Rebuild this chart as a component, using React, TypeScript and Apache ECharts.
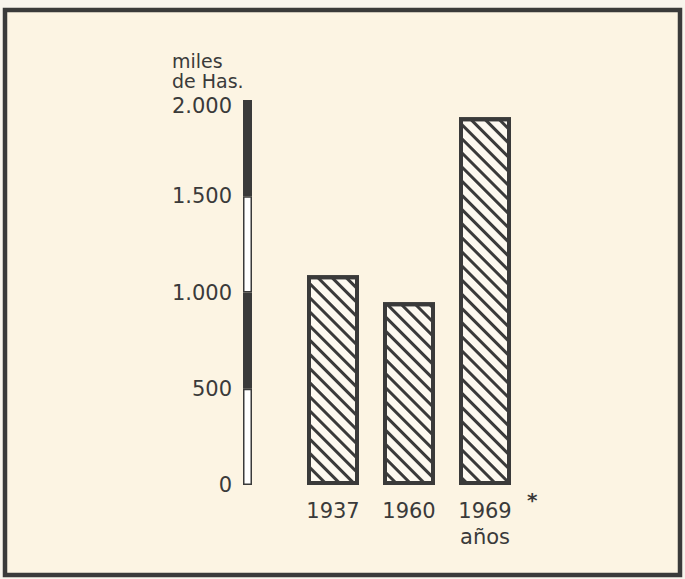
import React, { useEffect, useRef } from 'react';
import * as echarts from 'echarts';

// ---- data ----
const years = ['1937', '1960', '1969'];
const areaThousandHa = [1090, 950, 1910];
const axisSegments = [500, 500, 500, 500];
const yMin = 0;
const yMax = 2000;
const yStep = 500;
const unitLabel = ['miles', 'de Has.'];
const xAxisTitle = 'años';
const footnoteMark = '*';

const INK = '#3a3a3a';
const PAPER = '#fcf4e3';
const FONT = '"DejaVu Sans", sans-serif';

const fmt = (v: number) =>
  v >= 1000 ? `${Math.floor(v / 1000)}.${String(v % 1000).padStart(3, '0')}` : String(v);

export default function App() {
  const ref = useRef<HTMLDivElement>(null);
  useEffect(() => {
    if (!ref.current) return;
    const chart = echarts.init(ref.current, undefined, { renderer: 'svg' });
    const gridTop = 100;
    const gridBottom = 94;
    chart.setOption({
      animation: false,
      backgroundColor: '#f8f4ec',
      textStyle: { fontFamily: FONT, color: INK },
      grid: [
        { left: 243, width: 9, top: gridTop, bottom: gridBottom },
        { left: 295, right: 162, top: gridTop, bottom: gridBottom },
      ],
      xAxis: [
        { type: 'category', gridIndex: 0, data: [''], show: false },
        {
          type: 'category',
          gridIndex: 1,
          data: years,
          axisLine: { show: false },
          axisTick: { show: false },
          axisLabel: {
            margin: 13,
            fontSize: 21,
            color: INK,
            fontFamily: FONT,
            lineHeight: 26,
            formatter: (v: string, i: number) =>
              i === years.length - 1 ? `${v}\n${xAxisTitle}` : v,
          },
        },
      ],
      yAxis: [
        {
          type: 'value',
          gridIndex: 0,
          min: yMin,
          max: yMax,
          interval: yStep,
          axisLine: { show: false },
          axisTick: { show: false },
          splitLine: { show: false },
          axisLabel: {
            margin: 11,
            fontSize: 21,
            color: INK,
            fontFamily: FONT,
            formatter: (v: number) => (v === yMax ? `{top|${fmt(v)}}` : fmt(v)),
            rich: {
              top: { fontSize: 21, fontFamily: FONT, color: INK, padding: [12, 0, 0, 0] },
            },
          },
        },
        {
          type: 'value',
          gridIndex: 1,
          min: yMin,
          max: yMax,
          interval: yStep,
          show: false,
        },
      ],
      series: [
        ...axisSegments.map((v, i) => ({
          type: 'bar',
          xAxisIndex: 0,
          yAxisIndex: 0,
          stack: 'axis',
          data: [v],
          barWidth: '100%',
          itemStyle: {
            color: i % 2 === 1 ? INK : '#ffffff',
            borderColor: INK,
            borderWidth: 1.5,
          },
        })),
        {
          type: 'bar',
          xAxisIndex: 1,
          yAxisIndex: 1,
          data: areaThousandHa,
          barWidth: 52,
          itemStyle: {
            color: '#fdf9f0',
            borderColor: INK,
            borderWidth: 4,
            decal: {
              symbol: 'rect',
              symbolSize: 1,
              dashArrayX: [1, 0],
              dashArrayY: [2.5, 7],
              rotation: Math.PI / 4,
              color: INK,
            },
          },
        },
      ],
      graphic: [
        {
          type: 'rect',
          z: -10,
          shape: { x: 5, y: 10, width: 675, height: 565 },
          style: { fill: PAPER, stroke: INK, lineWidth: 4.5 },
        },
        {
          type: 'text',
          left: 172,
          top: 51,
          style: { text: unitLabel[0], font: `19px ${FONT}`, fill: INK },
        },
        {
          type: 'text',
          left: 172,
          top: 71,
          style: { text: unitLabel[1], font: `19px ${FONT}`, fill: INK },
        },
        {
          type: 'text',
          left: 527,
          top: 490,
          style: {
            text: footnoteMark,
            font: `bold 20px ${FONT}`,
            fill: INK,
          },
        },
      ],
    });
    return () => chart.dispose();
  }, []);
  return (
    <div
      ref={ref}
      style={{ position: 'fixed', left: 0, top: 0, width: 685, height: 579 }}
    />
  );
}
